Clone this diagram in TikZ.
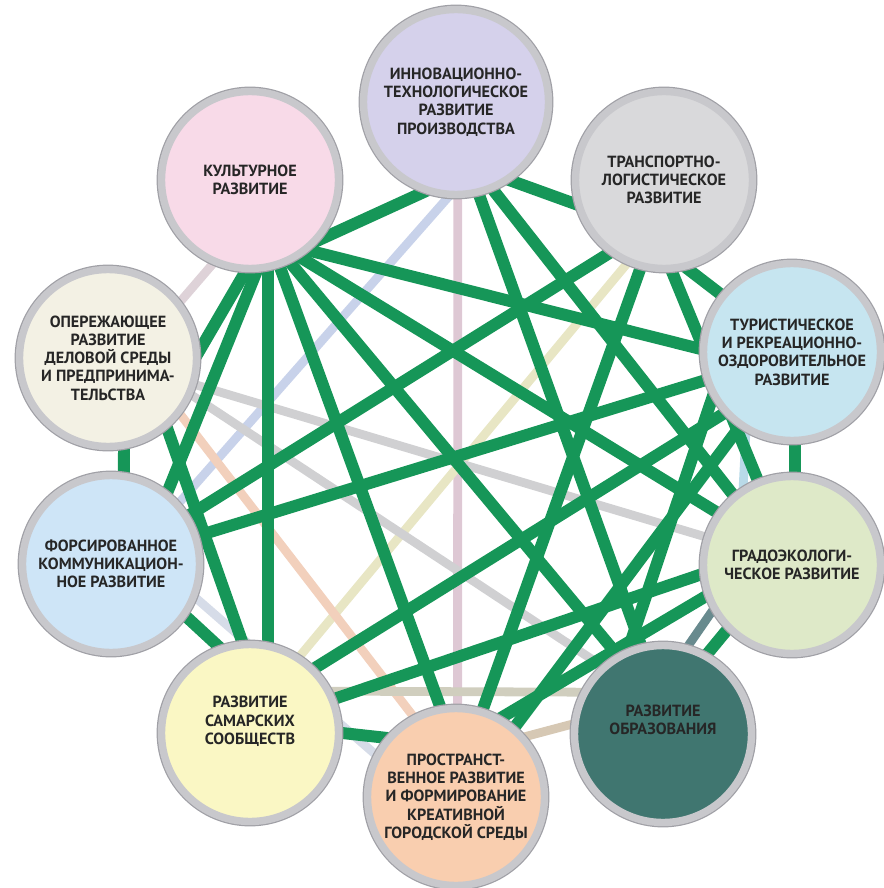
\documentclass[tikz,border=0pt]{standalone}
\usepackage{fontspec}
\setmainfont{PT Sans}
\usetikzlibrary{backgrounds}

% Colours of the circles
\definecolor{innovfill}{RGB}{213,209,235}
\definecolor{transfill}{RGB}{217,217,219}
\definecolor{tourfill}{RGB}{198,229,240}
\definecolor{ecofill}{RGB}{222,233,200}
\definecolor{edufill}{RGB}{64,118,112}
\definecolor{spacefill}{RGB}{249,206,175}
\definecolor{commfill}{RGB}{250,247,196}
\definecolor{mediafill}{RGB}{206,229,247}
\definecolor{busfill}{RGB}{243,241,228}
\definecolor{cultfill}{RGB}{248,218,232}
\definecolor{ringgray}{RGB}{200,200,204}
\definecolor{ringedge}{RGB}{160,160,166}

% Colours of the links
\definecolor{linkgreen}{RGB}{22,150,88}
\definecolor{mauveline}{RGB}{222,200,212}
\definecolor{lilacline}{RGB}{200,210,234}
\definecolor{blushline}{RGB}{222,210,216}
\definecolor{sandline}{RGB}{232,230,196}
\definecolor{greyline}{RGB}{208,208,210}
\definecolor{peachline}{RGB}{242,208,188}
\definecolor{mistline}{RGB}{214,220,232}
\definecolor{beigeline}{RGB}{208,206,190}
\definecolor{tanline}{RGB}{214,200,180}
\definecolor{tealline}{RGB}{104,138,142}
\definecolor{iceline}{RGB}{185,218,232}

\begin{document}
\begin{tikzpicture}[x=0.02cm, y=-0.02cm,
    bubble/.style={circle, inner sep=0pt, minimum size=3.54cm, align=center,
        draw=ringgray, line width=4.2pt, preaction={draw=ringedge, line width=5.6pt},
        text=black!85, font=\fontsize{9.2}{10.4}\selectfont\bfseries},
    greenlink/.style={draw=linkgreen, line width=6.8pt, shorten <=-8pt, shorten >=-8pt},
    palelink/.style={line width=5pt, shorten <=-8pt, shorten >=-8pt}]

    % Fix the page to the size of the picture
    \useasboundingbox (0,0) rectangle (884,888);

    % Circles round the ring, from the top clockwise
    \node[bubble, fill=innovfill, minimum size=3.7cm] (innov) at (456,102)
        {ИННОВАЦИОННО-\\ТЕХНОЛОГИЧЕСКОЕ\\РАЗВИТИЕ\\ПРОИЗВОДСТВА};
    \node[bubble, fill=transfill] (trans) at (664,180)
        {ТРАНСПОРТНО-\\ЛОГИСТИЧЕСКОЕ\\РАЗВИТИЕ};
    \node[bubble, fill=tourfill] (tour) at (792,352)
        {ТУРИСТИЧЕСКОЕ\\И РЕКРЕАЦИОННО-\\ОЗДОРОВИТЕЛЬНОЕ\\РАЗВИТИЕ};
    \node[bubble, fill=ecofill] (eco) at (792,565)
        {ГРАДОЭКОЛОГИ-\\ЧЕСКОЕ РАЗВИТИЕ};
    \node[bubble, fill=edufill] (edu) at (663,734)
        {РАЗВИТИЕ\\ОБРАЗОВАНИЯ\\[6pt]};
    \node[bubble, fill=spacefill] (space) at (456,797)
        {ПРОСТРАНСТ-\\ВЕННОЕ РАЗВИТИЕ\\И ФОРМИРОВАНИЕ\\КРЕАТИВНОЙ\\ГОРОДСКОЙ СРЕДЫ};
    \node[bubble, fill=commfill] (comm) at (250,733)
        {РАЗВИТИЕ\\САМАРСКИХ\\СООБЩЕСТВ\\[4pt]};
    \node[bubble, fill=mediafill] (media) at (111,564)
        {ФОРСИРОВАННОЕ\\КОММУНИКАЦИОН-\\НОЕ РАЗВИТИЕ};
    \node[bubble, fill=busfill] (busi) at (108,358)
        {ОПЕРЕЖАЮЩЕЕ\\РАЗВИТИЕ\\ДЕЛОВОЙ СРЕДЫ\\И ПРЕДПРИНИМА-\\ТЕЛЬСТВА};
    \node[bubble, fill=cultfill] (cult) at (250,180)
        {КУЛЬТУРНОЕ\\РАЗВИТИЕ};

    \begin{pgfonlayer}{background}
    % Pale links
    \draw[palelink, draw=mauveline] (innov.-89) -- (space.89);
    \draw[palelink, draw=lilacline] (innov.-95) -- (media.42);
    \draw[palelink, draw=blushline] (cult.-114) -- (busi.38);
    \draw[palelink, draw=sandline] (trans.-114) -- (comm.57);
    \draw[palelink, draw=greyline] (busi.-17) -- (eco.162);
    \draw[palelink, draw=greyline] (busi.-24) -- (edu.132);
    \draw[palelink, draw=peachline] (busi.-38) -- (space.118);
    \draw[palelink, draw=mistline] (media.-22) -- (space.152);
    \draw[palelink, draw=beigeline] (comm.27) -- (edu.153);
    \draw[palelink, draw=tanline] (space.41) -- (edu.174);
    \draw[palelink, draw=tealline] (edu.74) -- (eco.210);
    \draw[palelink, draw=iceline] (tour.240) -- (eco.122);

    % Green links
    \draw[greenlink] (cult.-40) -- (innov.-110);
    \draw[greenlink] (innov.-55) -- (trans.195);
    \draw[greenlink] (cult.-50) -- (tour.178);
    \draw[greenlink] (cult.-57) -- (eco.145);
    \draw[greenlink] (cult.-64) -- (edu.120);
    \draw[greenlink] (cult.-71) -- (space.100);
    \draw[greenlink] (cult.-79) -- (comm.79);
    \draw[greenlink] (cult.-86) -- (media.52);
    \draw[greenlink] (cult.-93) -- (busi.5);
    \draw[greenlink] (busi.-80) -- (media.82);
    \draw[greenlink] (media.-35) -- (comm.110);
    \draw[greenlink] (comm.0) -- (space.140);
    \draw[greenlink] (trans.-75) -- (tour.141);
    \draw[greenlink] (tour.272) -- (eco.88);
    \draw[greenlink] (eco.225) -- (edu.61);
    \draw[greenlink] (media.32) -- (trans.233);
    \draw[greenlink] (media.18) -- (tour.198);
    \draw[greenlink] (innov.-76) -- (edu.104);
    \draw[greenlink] (innov.-67) -- (eco.130);
    \draw[greenlink] (comm.22) -- (eco.186);
    \draw[greenlink] (comm.45) -- (tour.222);
    \draw[greenlink] (trans.-105) -- (space.73);
    \draw[greenlink] (trans.-85) -- (eco.112);
    \draw[greenlink] (space.50) -- (tour.235);
    \draw[greenlink] (space.60) -- (eco.200);
    \draw[greenlink] (busi.-50) -- (comm.95);
    \draw[greenlink] (tour.210) -- (edu.112);
    \end{pgfonlayer}

\end{tikzpicture}
\end{document}
